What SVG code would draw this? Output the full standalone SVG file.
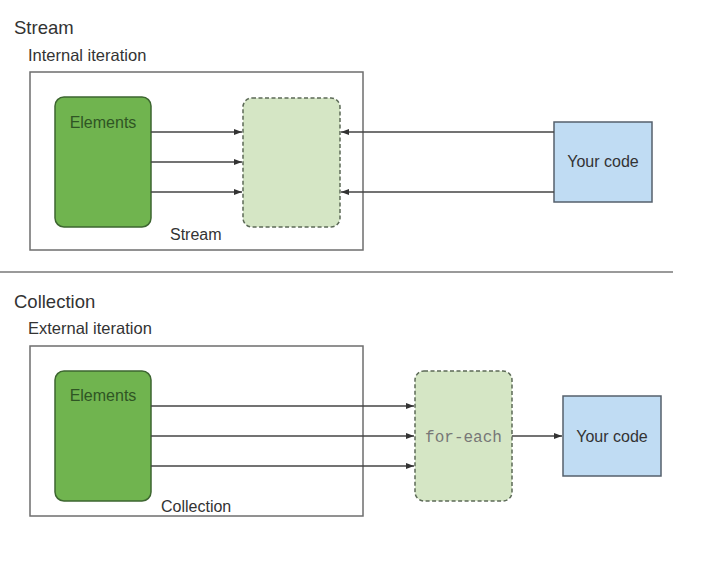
<svg xmlns="http://www.w3.org/2000/svg" width="715" height="566" viewBox="0 0 715 566">
<defs>
<style>
.t{font-family:"Liberation Sans",Arial,sans-serif;fill:#333}
.title{font-size:18.5px}
.sub{font-size:16.5px}
.lbl{font-size:16px}
.frame{fill:none;stroke:#6e6e6e;stroke-width:1.5}
.elem{fill:#70b44f;stroke:#3d6630;stroke-width:1.5}
.elemt{fill:#2f5524}
.dash{fill:#d5e6c5;stroke:#5c6a57;stroke-width:1.5;stroke-dasharray:4 2.5}
.code{fill:#c0dcf3;stroke:#55606c;stroke-width:1.5}
.mono{font-family:"Liberation Mono","Courier New",monospace;font-size:16px;fill:#777}
.arr{stroke:#444;stroke-width:1.3;fill:none;marker-end:url(#ah)}
</style>
<marker id="ah" viewBox="0 0 8 6" refX="8" refY="3" markerWidth="8" markerHeight="6" markerUnits="userSpaceOnUse" orient="auto">
<path d="M0,0 L8,3 L0,6 z" fill="#333"/>
</marker>
</defs>
<rect width="715" height="566" fill="#fff"/>

<g id="stream-section">
<text class="t title" x="14" y="34">Stream</text>
<text class="t sub" x="28" y="61">Internal iteration</text>
<rect class="frame" x="30" y="72" width="333" height="178"/>
<text class="t lbl" x="170" y="240">Stream</text>
</g>
<g id="stream-elements">
<rect class="elem" x="55" y="97" width="96" height="130" rx="9"/>
<text class="t lbl elemt" x="103" y="128" text-anchor="middle">Elements</text>
</g>
<g id="stream-iter">
<rect class="dash" x="243" y="98" width="97" height="129" rx="9"/>
</g>
<g id="stream-code">
<rect class="code" x="554" y="122" width="98" height="80"/>
<text class="t lbl" x="603" y="167" text-anchor="middle">Your code</text>
</g>

<line x1="0" y1="272" x2="673" y2="272" stroke="#9a9a9a" stroke-width="2"/>

<g id="collection-section">
<text class="t title" x="14" y="308">Collection</text>
<text class="t sub" x="28" y="334">External iteration</text>
<rect class="frame" x="30" y="346" width="333" height="170"/>
<text class="t lbl" x="161" y="512">Collection</text>
</g>
<g id="collection-elements">
<rect class="elem" x="55" y="371" width="96" height="130" rx="9"/>
<text class="t lbl elemt" x="103" y="401" text-anchor="middle">Elements</text>
</g>
<g id="foreach">
<rect class="dash" x="415" y="371" width="97" height="130" rx="9"/>
<text class="mono" x="463.5" y="442" text-anchor="middle">for-each</text>
</g>
<g id="collection-code">
<rect class="code" x="563" y="396" width="98" height="80"/>
<text class="t lbl" x="612" y="442" text-anchor="middle">Your code</text>
</g>

<g id="connectors">
<line class="arr" x1="151" y1="132" x2="242" y2="132"/>
<line class="arr" x1="151" y1="162" x2="242" y2="162"/>
<line class="arr" x1="151" y1="192" x2="242" y2="192"/>
<line class="arr" x1="554" y1="132" x2="341" y2="132"/>
<line class="arr" x1="554" y1="192" x2="341" y2="192"/>
<line class="arr" x1="151" y1="406" x2="414" y2="406"/>
<line class="arr" x1="151" y1="436" x2="414" y2="436"/>
<line class="arr" x1="151" y1="466" x2="414" y2="466"/>
<line class="arr" x1="512" y1="436" x2="562" y2="436"/>
</g>
</svg>
